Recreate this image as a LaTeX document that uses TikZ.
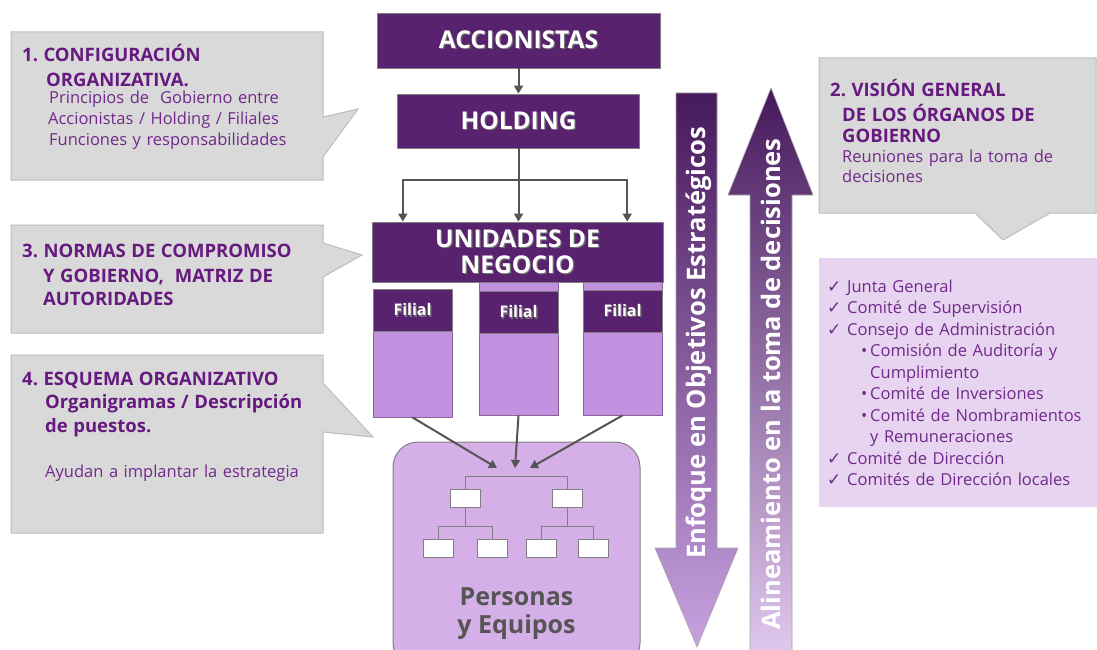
\documentclass[tikz,border=0pt]{standalone}
\usepackage{fontspec}
\setmainfont{Open Sans}
\newfontfamily\symfont{DejaVu Sans}
\usetikzlibrary{arrows.meta,calc}
\frenchspacing

\definecolor{boardviolet}{HTML}{59226F}
\definecolor{headviolet}{HTML}{66197F}
\definecolor{textviolet}{HTML}{72298C}
\definecolor{calloutfill}{HTML}{D9D9D9}
\definecolor{calloutline}{HTML}{BCBCBC}
\definecolor{filialfill}{HTML}{C291DF}
\definecolor{peoplefill}{HTML}{D5AFE7}
\definecolor{listfill}{HTML}{E7D4F1}
\definecolor{linkgray}{HTML}{555555}
\definecolor{shaftdark}{HTML}{46185C}
\definecolor{shaftmid}{HTML}{6E1E92}
\definecolor{shaftlight}{HTML}{C8A2E0}
\definecolor{shaftupmid}{HTML}{8E4BB5}
\definecolor{shaftpale}{HTML}{E2CAEF}

\newcommand{\shadowed}[1]{\makebox[0pt][l]{\hspace{1.2pt}\raisebox{-1.2pt}{\textcolor{black!55}{#1}}}#1}
\newcommand{\hd}[1]{{\bfseries\fontsize{18.5}{20}\selectfont\color{headviolet}#1}}
\newcommand{\chk}{\makebox[20pt][l]{\symfont\fontsize{17}{17}\selectfont ✓}}
\newcommand{\sub}{\hspace*{34pt}\makebox[9pt][l]{\textbullet}}

\tikzset{
  >={Triangle[length=8pt,width=9pt]},
  callout/.style={fill=calloutfill, draw=calloutline, line width=1pt},
  calltext/.style={anchor=base west, inner sep=0pt, text width=300pt, align=left,
    text=textviolet, font=\fontsize{16.5}{20}\selectfont},
  orgbox/.style={fill=boardviolet, draw=gray, line width=0.8pt, text=white, inner sep=0pt,
    align=center, font=\bfseries\fontsize{24.5}{26}\selectfont},
  filialbody/.style={fill=filialfill, draw=boardviolet!70, line width=0.8pt,
    minimum width=79pt, inner sep=0pt},
  filialhead/.style={fill=boardviolet, draw=gray, line width=0.8pt, minimum width=79pt,
    minimum height=42pt, inner sep=0pt, text=white, font=\bfseries\fontsize{16}{18}\selectfont},
  minibox/.style={fill=white, draw=gray, line width=0.8pt, minimum width=30pt,
    minimum height=18pt, inner sep=0pt},
  link/.style={draw=linkgray, line width=2pt},
  treeline/.style={draw=gray, line width=0.8pt},
  bigarrowtext/.style={rotate=90, anchor=base, text=white, inner sep=0pt,
    font=\bfseries\fontsize{25.5}{26}\selectfont},
}

\begin{document}
\begin{tikzpicture}[x=1pt,y=-1pt]
  \useasboundingbox (0,0) rectangle (1097,650);
  \clip (0,0) rectangle (1097,650);
  %% Callouts on the left
  \filldraw[callout] (11,32) -- (323,32) -- (323,117) -- (358,109) -- (323,157)
    -- (323,180) -- (11,180) -- cycle;
  \node[calltext] (config) at (22,62) {\hd{1. CONFIGURACIÓN}\\[5pt]
    \hspace*{24pt}\hd{ORGANIZATIVA.}\\[-3pt]
    \hspace*{27pt}Principios de\ \ Gobierno entre\\[1pt]
    \hspace*{26pt}Accionistas / Holding / Filiales\\[1pt]
    \hspace*{27pt}Funciones y responsabilidades};
  \filldraw[callout] (11,225) -- (323,225) -- (323,243) -- (362,255) -- (323,277)
    -- (323,333) -- (11,333) -- cycle;
  \node[calltext] (norms) at (22,257) {\hd{3. NORMAS DE COMPROMISO}\\[5pt]
    \hspace*{21pt}\hd{Y GOBIERNO,\ \ MATRIZ DE}\\[3pt]
    \hspace*{21pt}\hd{AUTORIDADES}};
  \filldraw[callout] (11,355) -- (323,355) -- (323,383) -- (373,437) -- (323,432)
    -- (323,533) -- (11,533) -- cycle;
  \node[calltext] (scheme) at (22,385) {\hd{4. ESQUEMA ORGANIZATIVO}\\[3pt]
    \hspace*{23pt}\hd{Organigramas / Descripción}\\[4pt]
    \hspace*{23pt}\hd{de puestos.}\\[25pt]
    \hspace*{23pt}Ayudan a implantar la estrategia};
  %% Callout on the right
  \filldraw[callout] (819,58) -- (1096,58) -- (1096,213) -- (1050,213) -- (1003,240)
    -- (975,213) -- (819,213) -- cycle;
  \node[calltext] (vision) at (830,97) {\hd{2. VISIÓN GENERAL}\\[5pt]
    \hspace*{12pt}\hd{DE LOS ÓRGANOS DE}\\[1pt]
    \hspace*{12pt}\hd{GOBIERNO}\\
    \hspace*{12pt}Reuniones para la toma de\\
    \hspace*{12pt}decisiones};
  %% Governing bodies
  \node[fill=listfill, minimum width=278pt, minimum height=249pt, inner sep=0pt,
    anchor=north west] (panel) at (819,258) {};
  \node[calltext, font=\fontsize{16.5}{21.5}\selectfont] (bodies) at (827,292) {\chk Junta General\\
    \chk Comité de Supervisión\\
    \chk Consejo de Administración\\
    \sub Comisión de Auditoría y\\
    \hspace*{43pt}Cumplimiento\\
    \sub Comité de Inversiones\\
    \sub Comité de Nombramientos\\
    \hspace*{43pt}y Remuneraciones\\
    \chk Comité de Dirección\\
    \chk Comités de Dirección locales};
  %% Big arrows
  \shadedraw[top color=shaftdark, middle color=shaftmid, bottom color=shaftlight,
    draw=gray!70, line width=0.6pt] (676,93) -- (717,93) -- (717,548) -- (738,548)
    -- (697,647) -- (655,548) -- (676,548) -- cycle;
  \shadedraw[top color=shaftdark, middle color=shaftupmid, bottom color=shaftpale,
    draw=gray!70, line width=0.6pt] (771,88) -- (813,195) -- (792,195) -- (792,660)
    -- (750,660) -- (750,195) -- (728,195) -- cycle;
  \node[bigarrowtext] (focus) at (705,343) {Enfoque en Objetivos Estratégicos};
  \node[bigarrowtext] (aligning) at (780,384) {Alineamiento en la toma de decisiones};
  %% Structure
  \node[orgbox, minimum width=283pt, minimum height=55pt] (accionistas) at (518.5,40.5)
    {\shadowed{ACCIONISTAS}};
  \node[orgbox, minimum width=242pt, minimum height=54pt] (holding) at (518.5,121)
    {\shadowed{HOLDING}};
  \node[filialbody, minimum height=128pt] (body1) at (412.5,353) {};
  \node[filialbody, minimum height=140pt] (body2) at (518.5,345) {};
  \node[filialbody, minimum height=140pt] (body3) at (622.5,345) {};
  \node[filialhead] (filial1) at (412.5,310.5) {\shadowed{Filial}};
  \node[filialhead] (filial2) at (518.5,312.5) {\shadowed{Filial}};
  \node[filialhead] (filial3) at (622.5,311) {\shadowed{Filial}};
  \node[orgbox, minimum width=291pt, minimum height=60pt] (unidades) at (517.5,252)
    {\shadowed{UNIDADES DE}\\\shadowed{NEGOCIO}};
  \draw[link,->] (accionistas.south) -- (accionistas.south |- holding.north);
  \draw[link] (holding.south) -- ++(0,32) coordinate (split);
  \draw[link,->] (split) -- (split |- unidades.north);
  \draw[link,->] (split) -| ($(unidades.north west)!0.107!(unidades.north east)$);
  \draw[link,->] (split) -| ($(unidades.north west)!0.876!(unidades.north east)$);
  %% People and teams
  \node[fill=peoplefill, draw=gray, line width=1pt, rounded corners=25pt,
    minimum width=247pt, minimum height=226pt] (people) at (516.5,555) {};
  \node[anchor=base, inner sep=0pt, align=center, text=linkgray,
    font=\bfseries\fontsize{25}{28}\selectfont] (peopletext) at (516.5,633)
    {Personas\\y Equipos};
  \coordinate (hubL) at (497,468);
  \coordinate (hubC) at (515,468);
  \coordinate (hubR) at (530,468);
  \draw[link,->] (body1.south) -- (hubL);
  \draw[link,->] (body2.south) -- (hubC);
  \draw[link,->] (body3.south) -- (hubR);
  \node[minibox] (mgrL) at (465.5,498.5) {};
  \node[minibox] (mgrR) at (567,498.5) {};
  \node[minibox] (stf1) at (438,548.5) {};
  \node[minibox] (stf2) at (492,548.5) {};
  \node[minibox] (stf3) at (541,548.5) {};
  \node[minibox] (stf4) at (593.5,548.5) {};
  \draw[treeline] (mgrL.north) -- ++(0,-13) -| (mgrR.north);
  \draw[treeline] (mgrL.south) -- ++(0,19);
  \draw[treeline] (mgrR.south) -- ++(0,19);
  \draw[treeline] (stf1.north) -- ++(0,-13) -| (stf2.north);
  \draw[treeline] (stf3.north) -- ++(0,-13) -| (stf4.north);
\end{tikzpicture}
\end{document}
